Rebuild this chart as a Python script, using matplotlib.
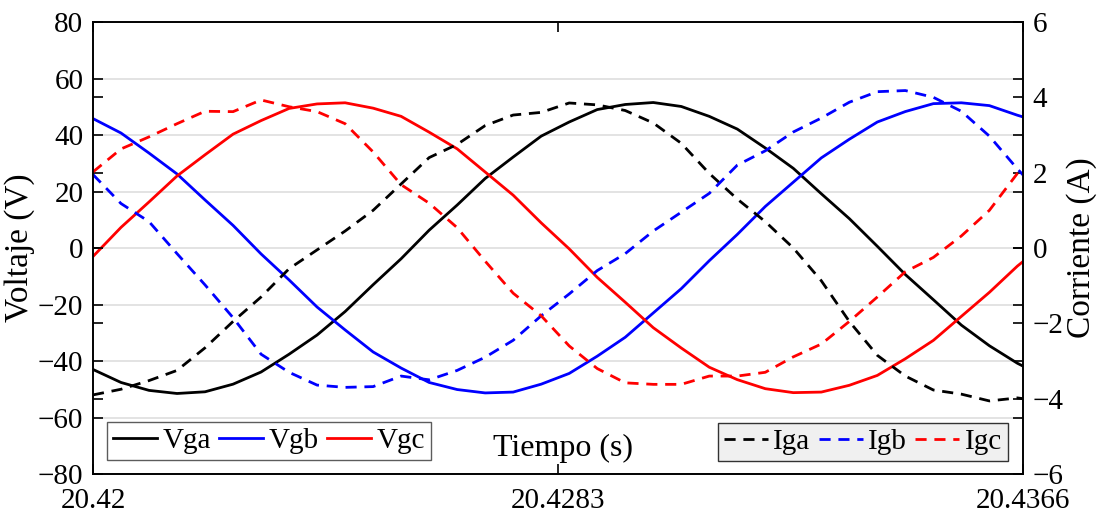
import matplotlib
matplotlib.use("Agg")
import matplotlib.pyplot as plt
import numpy as np

# time samples (s)
t = [20.4200, 20.4205, 20.4210, 20.4215, 20.4220, 20.4225, 20.4230, 20.4235,
     20.4240, 20.4245, 20.4250, 20.4255, 20.4260, 20.4265, 20.4270, 20.4275,
     20.4280, 20.4285, 20.4290, 20.4295, 20.4300, 20.4305, 20.4310, 20.4315,
     20.4320, 20.4325, 20.4330, 20.4335, 20.4340, 20.4345, 20.4350, 20.4355,
     20.4360, 20.4365, 20.4366]

# voltages (V)
vga = [-43.0, -47.6, -50.4, -51.5, -50.9, -48.2, -43.9, -37.6, -30.8, -22.5,
       -13.0, -3.8, 6.3, 15.2, 24.6, 32.2, 39.6, 44.6, 49.0, 50.8,
       51.5, 50.1, 46.6, 42.1, 35.4, 28.2, 19.2, 10.4, 0.6, -9.4,
       -18.3, -27.3, -34.6, -40.8, -41.8]
vgb = [45.8, 40.7, 33.6, 26.2, 17.0, 8.0, -2.1, -11.3, -20.9, -29.0,
       -36.8, -42.5, -47.6, -50.1, -51.3, -51.0, -48.2, -44.4, -38.3, -31.6,
       -23.0, -14.4, -4.5, 4.8, 14.7, 23.3, 31.9, 38.5, 44.6, 48.3,
       51.1, 51.4, 50.4, 47.0, 46.4]
vgc = [-3.0, 7.3, 16.3, 25.5, 33.0, 40.3, 45.1, 49.4, 51.0, 51.4,
       49.5, 46.6, 41.0, 35.1, 26.9, 18.7, 8.9, -0.3, -10.4, -19.2,
       -28.2, -35.4, -42.2, -46.6, -49.8, -51.2, -51.0, -48.6, -45.1, -39.2,
       -32.7, -24.2, -15.7, -6.4, -4.8]

# currents (A)
iga = [-3.90, -3.75, -3.52, -3.25, -2.65, -1.95, -1.30, -0.55, -0.05, 0.45,
       1.00, 1.70, 2.40, 2.75, 3.25, 3.53, 3.60, 3.85, 3.80, 3.65,
       3.32, 2.78, 1.98, 1.30, 0.70, 0.00, -0.87, -1.95, -2.85, -3.40,
       -3.77, -3.88, -4.06, -3.98, -4.00]
igb = [1.95, 1.18, 0.70, -0.15, -0.98, -1.85, -2.82, -3.30, -3.64, -3.70,
       -3.68, -3.40, -3.50, -3.25, -2.90, -2.45, -1.80, -1.22, -0.60, -0.15,
       0.45, 0.95, 1.45, 2.20, 2.58, 3.08, 3.45, 3.87, 4.15, 4.18,
       4.00, 3.63, 2.97, 2.10, 1.94]
igc = [2.02, 2.63, 2.95, 3.30, 3.63, 3.62, 3.93, 3.75, 3.62, 3.30,
       2.55, 1.68, 1.19, 0.54, -0.35, -1.20, -1.80, -2.60, -3.20, -3.58,
       -3.62, -3.62, -3.40, -3.40, -3.30, -2.89, -2.55, -1.95, -1.30, -0.63,
       -0.25, 0.32, 1.00, 1.98, 2.07]

v_labels = ["Vga", "Vgb", "Vgc"]
i_labels = ["Iga", "Igb", "Igc"]
x_ticks = [20.42, 20.4283, 20.4366]
x_ticklabels = ["20.42", "20.4283", "20.4366"]
v_ticks = [-80, -60, -40, -20, 0, 20, 40, 60, 80]
i_ticks = [-6, -4, -2, 0, 2, 4, 6]

plt.rcParams["font.family"] = ["Liberation Serif", "DejaVu Serif"]
plt.rcParams["font.size"] = 21

fig = plt.figure(figsize=(11, 5.17), dpi=100)
ax1 = fig.add_axes([93/1100, 1-474/517, 930/1100, 452/517])
ax2 = ax1.twinx()

colors = ["black", "blue", "red"]
lw = 2.0
lines_v = []
for y, c, lab in zip([vga, vgb, vgc], colors, v_labels):
    ln, = ax1.plot(t, y, color=c, lw=lw, label=lab)
    lines_v.append(ln)
lines_i = []
for y, c, lab in zip([iga, igb, igc], colors, i_labels):
    ln, = ax2.plot(t, y, color=c, lw=lw, ls=(0, (4, 2.8)), label=lab)
    lines_i.append(ln)

ax1.set_xlim(20.42, 20.4366)
ax1.set_ylim(-80, 80)
ax2.set_ylim(-6, 6)
ax1.set_xticks(x_ticks)
ax1.set_xticklabels(x_ticklabels)
ax1.set_yticks(v_ticks)
ax2.set_yticks(i_ticks)

ax1.yaxis.grid(True, color="#dedede", lw=1.2)
ax1.set_axisbelow(True)

ax1.tick_params(axis="y", direction="in", length=7, width=1.2,
                right=True, labelsize=21, pad=7)
ax1.tick_params(axis="x", direction="in", length=7, width=1.2,
                top=True, labelsize=21, pad=10)
ax2.tick_params(axis="y", direction="in", length=7, width=1.2,
                left=True, labelsize=21, pad=7)
for ax in (ax1, ax2):
    for s in ax.spines.values():
        s.set_linewidth(1.2)
        s.set_color("black")

ax1.set_ylabel("Voltaje (V)", fontsize=24, labelpad=2)
ax2.set_ylabel("Corriente (A)", fontsize=24, labelpad=2)
ax1.set_xlabel("Tiempo (s)", fontsize=23)
ax1.xaxis.set_label_coords(0.505, 0.088)

leg_kw = dict(ncol=3, fontsize=21, frameon=True, fancybox=False,
              handlelength=1.5, handletextpad=0.2, columnspacing=0.28,
              borderpad=0.2, borderaxespad=0)
leg1 = ax2.legend(handles=lines_v, loc="lower left",
                  bbox_to_anchor=(0.015, 0.031), **leg_kw)
leg1.get_frame().set_edgecolor("#333333")
leg1.get_frame().set_linewidth(1.0)
ax2.add_artist(leg1)
leg2 = ax2.legend(handles=lines_i, loc="lower right",
                  bbox_to_anchor=(0.984, 0.029), **leg_kw)
leg2.get_frame().set_edgecolor("#333333")
leg2.get_frame().set_facecolor("#f0f0f0")
leg2.get_frame().set_alpha(1)
leg2.get_frame().set_linewidth(1.0)

fig.savefig("out.png", dpi=100)
